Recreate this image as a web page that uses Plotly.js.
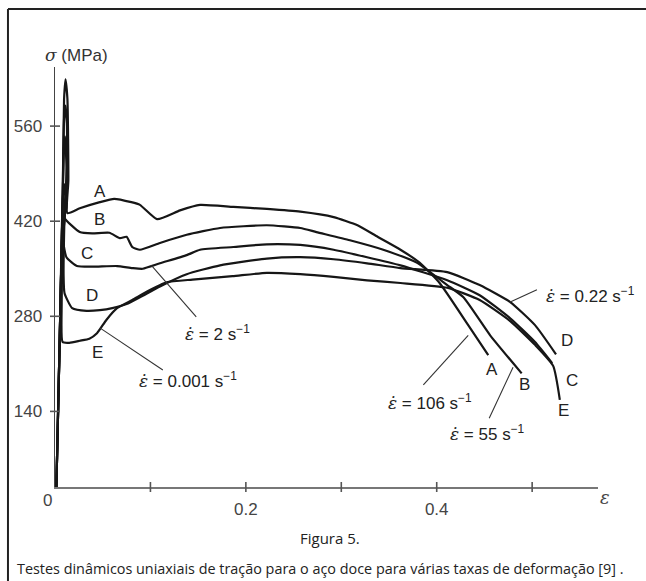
<!DOCTYPE html>
<html><head><meta charset="utf-8">
<script src="https://cdn.plot.ly/plotly-3.0.1.min.js"></script>
<style>html,body{margin:0;padding:0;background:#fff;}#chart{width:646px;height:581px;}</style>
</head><body><div id="chart"></div>
<script>
// strain (ε) and stress σ (MPa), one pair of arrays per curve
const strainA = [0.001,0.005,0.008,0.0095,0.011,0.013,0.014,0.013,0.026,0.047,0.062,0.080,0.089,0.107,0.131,0.152,0.187,0.222,0.257,0.292,0.317,0.338,0.362,0.382,0.403,0.433,0.454];
const stressA = [0,250,450,600,629,600,480,432,439,448,453,448,444,423,436,444,441,438,434,426,414,397,378,359,329,267,223];

const strainB = [0.001,0.005,0.008,0.0095,0.011,0.0125,0.012,0.010,0.026,0.039,0.057,0.068,0.075,0.081,0.089,0.110,0.138,0.173,0.222,0.257,0.274,0.309,0.344,0.379,0.411,0.428,0.456,0.489];
const stressB = [0,250,450,570,590,560,440,425,404,402,403,395,397,382,378,388,400,410,414,410,404,392,378,359,326,308,252,196];

const strainC = [0.001,0.005,0.008,0.0095,0.0105,0.012,0.010,0.008,0.012,0.023,0.039,0.065,0.081,0.092,0.110,0.138,0.152,0.187,0.222,0.257,0.292,0.327,0.362,0.411,0.445,0.477,0.503,0.521];
const stressC = [0,250,450,530,545,500,420,397,367,354,353,354,351,350,358,370,378,382,386,385,378,367,355,333,311,277,242,211];

const strainD = [0.001,0.005,0.008,0.0095,0.011,0.010,0.009,0.010,0.018,0.033,0.047,0.060,0.075,0.089,0.110,0.138,0.173,0.222,0.257,0.292,0.327,0.362,0.411,0.445,0.477,0.503,0.525];
const stressD = [0,250,450,470,475,430,340,314,292,288,289,292,298,308,324,342,355,365,367,364,358,351,345,326,301,267,224];

const strainE = [0.001,0.005,0.007,0.0085,0.009,0.008,0.007,0.008,0.015,0.026,0.036,0.044,0.054,0.065,0.081,0.096,0.117,0.144,0.186,0.222,0.257,0.292,0.327,0.362,0.411,0.445,0.477,0.503,0.522,0.529];
const stressE = [0,250,380,420,430,400,300,242,241,244,247,255,275,292,304,316,330,334,339,344,342,338,333,329,322,304,273,238,207,157];

const curveNames = ['A','B','C','D','E'];
const strainRates = ['106','55','2','0.22','0.001'];

const xTickVals = [0.1,0.2,0.3,0.4,0.5];
const xLabelVals = [0.2,0.4];
const xLabelText = ['0.2','0.4'];
const yTickVals = [140,280,420,560];
const yTickText = ['140','280','420','560'];

const strains = [strainA,strainB,strainC,strainD,strainE];
const stresses = [stressA,stressB,stressC,stressD,stressE];

const traces = curveNames.map((n,i)=>({
  type:'scatter', mode:'lines', name:n, x:strains[i], y:stresses[i],
  line:{color:'#161616', width:2.2, shape:'spline', smoothing:0.5},
  hoverinfo:'skip', showlegend:false
}));

const SANS = 'Liberation Sans, Arial, sans-serif';
const LBL = {family:SANS, size:17, color:'#222'};
const RATE = {family:SANS, size:17, color:'#222'};
function rateText(r){ return '<span style="font-family:DejaVu Serif"><i>ε̇</i></span> = ' + r + ' s<sup>−1</sup>'; }

// letter label positions (left end, right end) per curve
const leftPos = [[0.047,463],[0.047,422],[0.034,373],[0.039,311],[0.045,227]];
const rightPos = [[0.458,201],[0.492,179],[0.542,186],[0.537,245],[0.533,142]];
const annotations = [];
curveNames.forEach((n,i)=>{
  annotations.push({x:leftPos[i][0], y:leftPos[i][1], xref:'x', yref:'y', xanchor:'center', yanchor:'middle', text:n, showarrow:false, font:LBL});
  annotations.push({x:rightPos[i][0], y:rightPos[i][1], xref:'x', yref:'y', xanchor:'center', yanchor:'middle', text:n, showarrow:false, font:LBL});
});
// rate labels and their leaders: [textX, textY, anchor, leader x0,y0,x1,y1]
const ratePos = [
  [0.393,154,'center', 0.433,252,0.386,179],
  [0.453,108,'center', 0.480,205,0.455,130],
  [0.170,255,'center', 0.101,355,0.148,279],
  [0.512,311,'left',   0.477,301,0.505,319],
  [0.139,186,'center', 0.047,263,0.113,201]
];
const shapes = [];
strainRates.forEach((r,i)=>{
  const p = ratePos[i];
  annotations.push({x:p[0], y:p[1], xref:'x', yref:'y', xanchor:p[2], yanchor:'middle', text:rateText(r), showarrow:false, font:RATE});
  shapes.push({type:'line', xref:'x', yref:'y', x0:p[3], y0:p[4], x1:p[5], y1:p[6], line:{color:'#333', width:1.1}});
});
// crossing tick marks
xTickVals.forEach(v=>shapes.push({type:'line', xref:'x', yref:'paper', ysizemode:'pixel', yanchor:0, x0:v, x1:v, y0:-5, y1:5, line:{color:'#555', width:1.6}}));
yTickVals.forEach(v=>shapes.push({type:'line', yref:'y', xref:'paper', xsizemode:'pixel', xanchor:0, y0:v, y1:v, x0:-5, x1:5, line:{color:'#555', width:1.6}}));
// figure frame (left and top edges)
shapes.push({type:'line', xref:'paper', yref:'paper', x0:-0.0866, x1:-0.0866, y0:1.138, y1:-0.26, line:{color:'#222', width:2}});
shapes.push({type:'line', xref:'paper', yref:'paper', x0:-0.0866, x1:1.12, y0:1.138, y1:1.138, line:{color:'#222', width:2}});

function paperNote(x, y, text, font, xanchor){
  annotations.push({xref:'paper', yref:'paper', x:x, y:y, xanchor:xanchor||'center', yanchor:'middle', text:text, showarrow:false, font:font});
}
paperNote(0.039, 1.029, '<span style="font-family:DejaVu Serif"><i>σ</i></span> (MPa)', {family:SANS, size:17, color:'#333'});
paperNote(1.013, -0.026, '<i>ε</i>', {family:'DejaVu Serif, serif', size:18, color:'#444'});
paperNote(-0.013, -0.031, '0', {family:SANS, size:17, color:'#444'});
paperNote(0.506, -0.121, 'Figura 5.', {family:'Open Sans, sans-serif', size:15, color:'#222'});
paperNote(-0.0737, -0.195, 'Testes dinâmicos uniaxiais de tração para o aço doce para várias taxas de deformação [9] .', {family:'Open Sans, sans-serif', size:14.4, color:'#222'}, 'left');

const layout = {
  width:646, height:581,
  margin:{l:55, r:48, t:67, b:94},
  paper_bgcolor:'#fff', plot_bgcolor:'#fff',
  showlegend:false,
  xaxis:{range:[0,0.569], showline:true, linecolor:'#777', linewidth:2, showgrid:false, zeroline:false,
    tickmode:'array', tickvals:xLabelVals, ticktext:xLabelText, ticks:'', ticklabelstandoff:6,
    tickfont:{family:SANS, size:17, color:'#444'}},
  yaxis:{range:[28.7,647], showline:true, linecolor:'#444', linewidth:1.5, showgrid:false, zeroline:false,
    tickmode:'array', tickvals:yTickVals, ticktext:yTickText, ticks:'', ticklabelstandoff:8,
    tickfont:{family:SANS, size:17, color:'#444'}},
  annotations:annotations,
  shapes:shapes
};
Plotly.newPlot('chart', traces, layout, {displayModeBar:false, staticPlot:true});
</script></body></html>
